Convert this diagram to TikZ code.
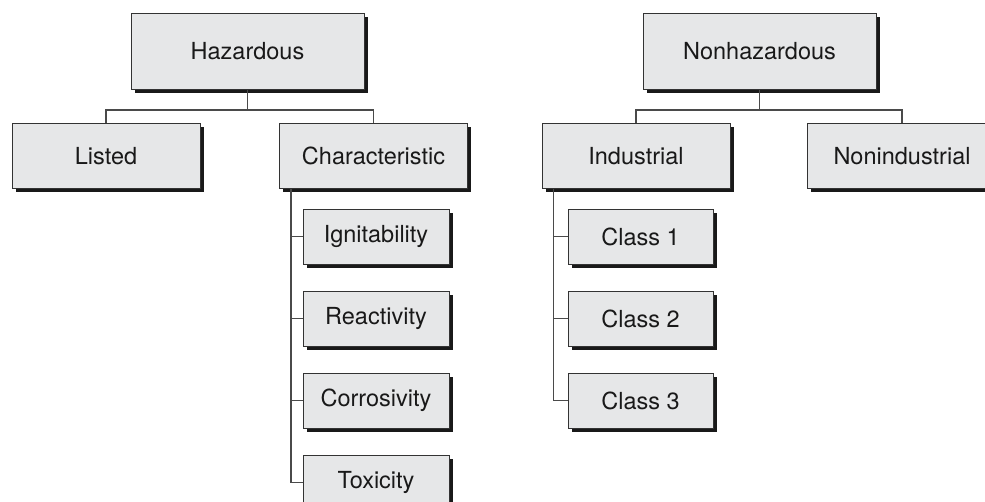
\documentclass[tikz,border=0pt]{standalone}
\usepackage{fontspec}
\setmainfont{TeX Gyre Heros}
\usepackage{tikz}
\usetikzlibrary{positioning,shadows}
\definecolor{boxgray}{HTML}{E6E7E8}
\definecolor{linegray}{HTML}{4A4A4A}
\tikzstyle{kasten}=[rectangle, draw=black!80, line width=1pt, fill=boxgray, text=black!90,
  font=\fontsize{23.5}{28}\selectfont, inner sep=0pt,
  general shadow={fill=black!90, shadow xshift=3.5pt, shadow yshift=-3.5pt}]
\tikzstyle{bigbox}=[kasten, minimum width=233pt, minimum height=76pt]
\tikzstyle{midbox}=[kasten, minimum width=188pt, minimum height=65pt]
\tikzstyle{smallbox}=[kasten, minimum width=146pt, minimum height=55pt]
\tikzstyle{verbind}=[draw=linegray, line width=1.4pt]

\begin{document}
\begin{tikzpicture}[x=1pt, y=-1pt, node distance=26pt]
	\clip (0,0) rectangle (985,501);

	% top level
	\node[bigbox] (haz) at (247.5,51) {Hazardous};
	\node[bigbox] (nonhaz) at (759.5,51) {Nonhazardous};

	% second level
	\node[midbox] (listed) at (106,156) {Listed};
	\node[midbox] (char) at (373.5,156) {Characteristic};
	\node[midbox] (indus) at (636,156) {Industrial};
	\node[midbox, minimum width=190pt] (nonind) at (902,156) {Nonindustrial};

	% characteristics
	\node[smallbox] (ign) at (376,236.5) {Ignitability};
	\node[smallbox] (react) [below=of ign] {Reactivity};
	\node[smallbox] (corr) [below=of react] {Corrosivity};
	\node[smallbox] (tox) [below=of corr] {Toxicity};

	% classes
	\node[smallbox, minimum width=145pt] (cl1) at (640.5,236.5) {Class 1};
	\node[smallbox, minimum width=145pt] (cl2) [below=of cl1] {Class 2};
	\node[smallbox, minimum width=145pt] (cl3) [below=of cl2] {Class 3};

	% tree lines
	\coordinate (hazbar) at (247.5,110);
	\coordinate (nonhazbar) at (759.5,110);
	\path[verbind] (haz.south) -- (hazbar);
	\path[verbind] (listed.north) |- (hazbar) -| (char.north);
	\path[verbind] (nonhaz.south) -- (nonhazbar);
	\path[verbind] (indus.north) |- (nonhazbar) -| (nonind.north);

	\path[verbind] (char.south west) ++(12,0) |- (ign.west);
	\path[verbind] (char.south west) ++(12,0) |- (react.west);
	\path[verbind] (char.south west) ++(12,0) |- (corr.west);
	\path[verbind] (char.south west) ++(12,0) |- (tox.west);

	\path[verbind] (indus.south west) ++(12,0) |- (cl1.west);
	\path[verbind] (indus.south west) ++(12,0) |- (cl2.west);
	\path[verbind] (indus.south west) ++(12,0) |- (cl3.west);
\end{tikzpicture}
\end{document}
